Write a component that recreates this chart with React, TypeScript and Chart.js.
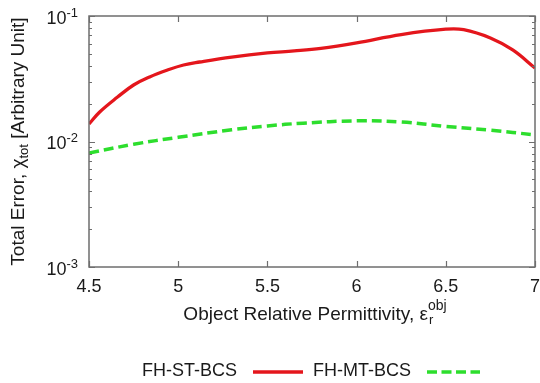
import React, { useEffect, useRef } from "react";
import { Chart, registerables } from "chart.js";

Chart.register(...registerables);

// ---- data ----
const permittivitySt = [4.5, 4.56, 4.66, 4.75, 4.84, 4.94, 5.03, 5.12, 5.3, 5.5, 5.65, 5.8, 6.0, 6.25, 6.5, 6.6, 6.75, 6.875, 7.0];
const errorSt = [0.0138, 0.0172, 0.0226, 0.0282, 0.0327, 0.0371, 0.0407, 0.043, 0.0471, 0.0508, 0.0527, 0.0553, 0.0612, 0.0712, 0.0785, 0.0778, 0.0668, 0.0536, 0.0385];
const permittivityMt = [4.5, 4.75, 5.0, 5.3, 5.5, 5.7, 6.0, 6.25, 6.5, 6.75, 7.0];
const errorMt = [0.0081, 0.0095, 0.0108, 0.0124, 0.0133, 0.014, 0.0146, 0.0143, 0.0132, 0.0123, 0.0113];
const seriesNames = ["FH-ST-BCS", "FH-MT-BCS"];
const xTicks = [4.5, 5, 5.5, 6, 6.5, 7];
const xTickLabels = ["4.5", "5", "5.5", "6", "6.5", "7"];
const yDecades = [0.001, 0.01, 0.1];
const yTickExponents = ["-3", "-2", "-1"];

const RED = "rgb(228,22,28)";
const GREEN = "rgb(45,222,45)";
const FONT = "'Liberation Sans', Arial, sans-serif";
const TEXT = "#1a1a1a";
const FRAME = "#6e6e6e";

type Part = { t: string; size: number; dy: number };

function richWidth(ctx: CanvasRenderingContext2D, parts: Part[]) {
  let w = 0;
  for (const p of parts) {
    ctx.font = `${p.size}px ${FONT}`;
    w += ctx.measureText(p.t).width;
  }
  return w;
}

function drawRich(ctx: CanvasRenderingContext2D, parts: Part[], x: number, y: number) {
  let cx = x;
  for (const p of parts) {
    ctx.font = `${p.size}px ${FONT}`;
    ctx.fillText(p.t, cx, y + p.dy);
    cx += ctx.measureText(p.t).width;
  }
}

const decorPlugin = {
  id: "decor",
  afterDraw(chart: any) {
    const ctx: CanvasRenderingContext2D = chart.ctx;
    const { left, right, top, bottom } = chart.chartArea;
    const xs = chart.scales.x;
    const ys = chart.scales.y;
    ctx.save();
    // frame
    ctx.strokeStyle = FRAME;
    ctx.lineWidth = 1.5;
    ctx.strokeRect(left, top, right - left, bottom - top);
    // x ticks
    ctx.lineWidth = 1.2;
    ctx.beginPath();
    for (const v of xTicks) {
      const px = Math.round(xs.getPixelForValue(v)) + 0.5;
      ctx.moveTo(px, bottom);
      ctx.lineTo(px, bottom - 6);
      ctx.moveTo(px, top);
      ctx.lineTo(px, top + 6);
    }
    // y ticks (log major + minor)
    for (let i = 0; i < yDecades.length; i++) {
      const d = yDecades[i];
      const maxK = i === yDecades.length - 1 ? 1 : 9;
      for (let k = 1; k <= maxK; k++) {
        const py = Math.round(ys.getPixelForValue(d * k)) + 0.5;
        const len = k === 1 ? 6 : 3;
        ctx.moveTo(left, py);
        ctx.lineTo(left + len, py);
        ctx.moveTo(right, py);
        ctx.lineTo(right - len, py);
      }
    }
    ctx.stroke();

    ctx.fillStyle = TEXT;
    // x tick labels
    ctx.font = `18px ${FONT}`;
    ctx.textAlign = "center";
    ctx.textBaseline = "middle";
    xTicks.forEach((v, i) => {
      ctx.fillText(xTickLabels[i], xs.getPixelForValue(v), bottom + 20);
    });
    // y tick labels 10^n
    ctx.textAlign = "left";
    yDecades.forEach((v, i) => {
      const py = ys.getPixelForValue(v);
      const parts: Part[] = [
        { t: "10", size: 18, dy: 3 },
        { t: yTickExponents[i], size: 13, dy: -3 },
      ];
      const w = richWidth(ctx, parts);
      drawRich(ctx, parts, left - 11 - w, py);
    });
    // x title with stacked sub/superscript
    const mainText = "Object Relative Permittivity, ε";
    ctx.font = `19px ${FONT}`;
    const mainW = ctx.measureText(mainText).width;
    ctx.font = `14px ${FONT}`;
    const supW = ctx.measureText("obj").width;
    const totW = mainW + supW;
    const xStart = (left + right) / 2 - totW / 2 + 3;
    const xTitleY = bottom + 48;
    ctx.font = `19px ${FONT}`;
    ctx.fillText(mainText, xStart, xTitleY);
    ctx.font = `13px ${FONT}`;
    ctx.fillText("r", xStart + mainW + 1, xTitleY + 5);
    ctx.font = `14px ${FONT}`;
    ctx.fillText("obj", xStart + mainW, xTitleY - 9);

    // y title (rotated)
    const yt: Part[] = [
      { t: "Total Error, χ", size: 19, dy: 0 },
      { t: "tot", size: 13, dy: 5 },
      { t: " [Arbitrary Unit]", size: 19, dy: 0 },
    ];
    ctx.save();
    ctx.translate(19, (top + bottom) / 2);
    ctx.rotate(-Math.PI / 2);
    const yw = richWidth(ctx, yt);
    drawRich(ctx, yt, -yw / 2, 0);
    ctx.restore();

    // legend
    const ly = 371;
    ctx.font = `18px ${FONT}`;
    ctx.textAlign = "left";
    ctx.textBaseline = "middle";
    ctx.fillText(seriesNames[0], 142, ly);
    ctx.fillText(seriesNames[1], 313, ly);
    ctx.lineWidth = 3.5;
    ctx.strokeStyle = RED;
    ctx.setLineDash([]);
    ctx.beginPath();
    ctx.moveTo(253, ly + 1);
    ctx.lineTo(303, ly + 1);
    ctx.stroke();
    ctx.strokeStyle = GREEN;
    ctx.setLineDash([10, 4.5]);
    ctx.beginPath();
    ctx.moveTo(427, ly + 1);
    ctx.lineTo(480, ly + 1);
    ctx.stroke();
    ctx.restore();
  },
};

export default function App() {
  const ref = useRef<HTMLCanvasElement | null>(null);
  useEffect(() => {
    if (!ref.current) return;
    const chart = new Chart(ref.current, {
      type: "line",
      data: {
        datasets: [
          {
            label: seriesNames[0],
            data: permittivitySt.map((x, i) => ({ x, y: errorSt[i] })),
            borderColor: RED,
            borderWidth: 3.3,
            pointRadius: 0,
            fill: false,
            tension: 0.4,
          },
          {
            label: seriesNames[1],
            data: permittivityMt.map((x, i) => ({ x, y: errorMt[i] })),
            borderColor: GREEN,
            borderWidth: 3.5,
            borderDash: [10, 5],
            pointRadius: 0,
            fill: false,
            tension: 0.4,
          },
        ],
      },
      options: {
        animation: false,
        responsive: true,
        maintainAspectRatio: false,
        layout: { padding: { left: 89, right: 5, top: 16, bottom: 116 } },
        plugins: { legend: { display: false }, tooltip: { enabled: false } },
        scales: {
          x: { type: "linear", min: 4.5, max: 7, display: false },
          y: { type: "logarithmic", min: 0.001, max: 0.1, display: false },
        },
      },
      plugins: [decorPlugin],
    } as any);
    return () => chart.destroy();
  }, []);
  return (
    <div style={{ position: "fixed", left: 0, top: 0, width: 540, height: 383, background: "#fff" }}>
      <canvas ref={ref} />
    </div>
  );
}
